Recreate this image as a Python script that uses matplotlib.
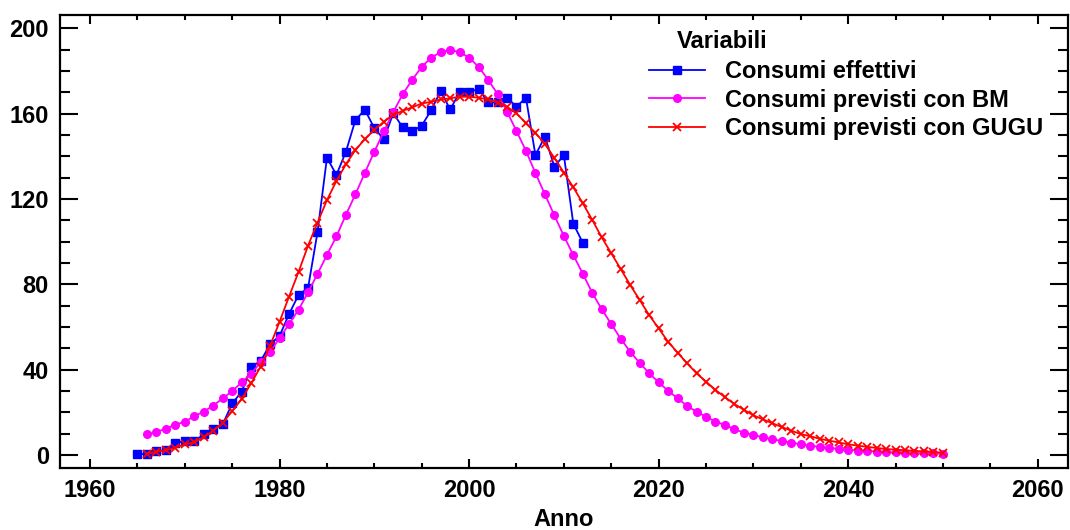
import matplotlib
matplotlib.use("Agg")
import matplotlib.pyplot as plt
from matplotlib.ticker import MultipleLocator

plt.rcParams['font.family'] = ['Liberation Sans', 'DejaVu Sans']
plt.rcParams['font.weight'] = 'bold'

# anni
anni_eff = list(range(1965, 2013))
anni_prev = list(range(1966, 2051))

# Consumi effettivi
effettivi = [0.3, 0.5, 1.7, 2.3, 5.8, 6.4, 6.4, 9.7, 12.2, 14.4,
             24.2, 29.6, 41.4, 44.0, 51.9, 55.8, 66.1, 75.0, 78.2, 104.4,
             139.4, 131.3, 142.2, 157.0, 161.9, 153.2, 148.1, 160.2, 153.6, 151.8,
             154.4, 161.7, 170.7, 162.0, 170.0, 170.2, 171.6, 165.3, 165.3, 167.5,
             163.3, 167.5, 140.6, 149.2, 135.2, 140.6, 108.4, 99.5]

# Consumi previsti con BM
bm = [9.7, 10.8, 12.3, 14.2, 15.6, 18.2, 20.3, 23.2, 26.5, 30.0,
      34.0, 38.2, 43.4, 48.3, 54.8, 61.4, 68.1, 76.2, 84.9, 93.8,
      102.5, 112.6, 122.2, 132.3, 142.2, 151.7, 160.8, 169.2, 175.9, 182.0,
      186.3, 188.9, 189.9, 188.9, 186.3, 182.0, 176.0, 169.3, 161.0, 151.9,
      142.6, 132.2, 122.2, 112.3, 102.7, 93.7, 85.0, 76.0, 68.3, 61.4,
      54.5, 48.4, 43.2, 38.3, 34.1, 30.1, 26.6, 23.0, 20.3, 18.0,
      15.6, 14.1, 12.0, 10.5, 9.4, 8.3, 7.4, 6.6, 5.8, 5.0,
      4.4, 3.8, 3.3, 2.9, 2.4, 2.1, 1.8, 1.6, 1.4, 1.2,
      1.0, 0.9, 0.8, 0.7, 0.6]

# Consumi previsti con GUGU
gugu = [0.5, 1.6, 2.2, 3.4, 5.0, 6.0, 8.3, 11.4, 15.1, 20.5,
        26.3, 33.6, 41.4, 51.2, 62.5, 74.3, 85.8, 98.1, 108.9, 119.5,
        128.5, 136.3, 143.0, 148.1, 152.4, 156.3, 159.4, 161.4, 163.0, 164.8,
        165.6, 166.8, 167.2, 168.0, 168.0, 167.5, 166.8, 165.2, 163.3, 160.2,
        155.5, 151.1, 145.8, 139.3, 132.4, 125.5, 118.0, 110.2, 102.0, 94.6,
        87.2, 79.7, 72.7, 65.6, 59.4, 53.1, 48.0, 43.0, 38.3, 34.4,
        30.5, 27.1, 23.9, 21.2, 18.6, 16.7, 14.9, 13.1, 11.4, 9.8,
        8.8, 7.6, 6.7, 5.9, 5.0, 4.4, 3.8, 3.3, 2.8, 2.5,
        2.2, 1.9, 1.7, 1.4, 1.1]

fig = plt.figure(figsize=(10.7, 5.3), dpi=100)
ax = fig.add_axes([0.0561, 0.117, 0.9420, 0.8547])

ax.plot(anni_eff, effettivi, color='#0000ff', marker='s', markersize=5.5, lw=1.3,
        label='Consumi effettivi')
ax.plot(anni_prev, bm, color='#ff00ff', marker='o', markersize=5.5, lw=1.3,
        label='Consumi previsti con BM')
ax.plot(anni_prev, gugu, color='#ff0000', marker='x', markersize=6, mew=1.3, lw=1.3,
        label='Consumi previsti con GUGU')

ax.set_xlim(1956.83, 2063.2)
ax.set_ylim(-6.1, 206.3)
ax.xaxis.set_major_locator(MultipleLocator(20))
ax.xaxis.set_minor_locator(MultipleLocator(5))
ax.yaxis.set_major_locator(MultipleLocator(40))
ax.yaxis.set_minor_locator(MultipleLocator(10))

for s in ax.spines.values():
    s.set_linewidth(1.6)

ax.tick_params(axis='both', which='both', direction='in', top=True, right=True,
               labelsize=17, width=1.5)
ax.tick_params(axis='x', which='major', length=6.5, pad=8)
ax.tick_params(axis='x', which='minor', length=3.6)
ax.tick_params(axis='y', which='major', length=13, pad=8)
ax.tick_params(axis='y', which='minor', length=7.2)

ax.set_xlabel('Anno', fontsize=17, fontweight='bold', labelpad=4)

leg = ax.legend(loc='upper left', bbox_to_anchor=(0.584, 0.9007), frameon=False,
                fontsize=17, handlelength=2.4, handletextpad=0.85,
                labelspacing=0.24, borderpad=0, borderaxespad=0)
for t in leg.get_texts():
    t.set_fontweight('bold')
ax.text(0.612, 0.9426, 'Variabili', transform=ax.transAxes, fontsize=17,
        fontweight='bold', va='center', ha='left')

fig.savefig('out.png', dpi=100)
